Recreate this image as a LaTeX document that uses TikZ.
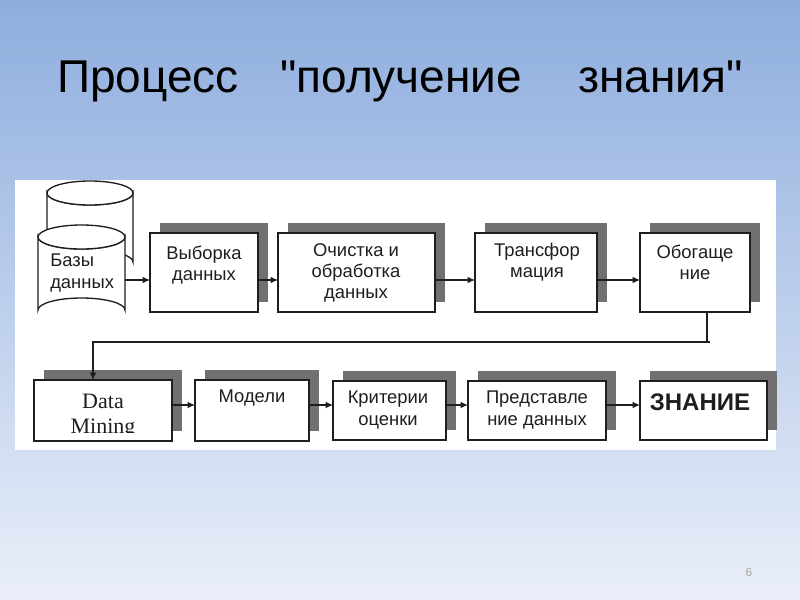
\documentclass[tikz,border=0pt]{standalone}
\usepackage{fontspec}
\setmainfont{Liberation Sans}
\newfontfamily\titlefont{Liberation Sans}
\newfontfamily\serifdm{Liberation Serif}
\usetikzlibrary{arrows.meta,shadows,calc}
\definecolor{bgtop}{RGB}{142,173,222}
\definecolor{bgmid}{RGB}{178,200,236}
\definecolor{bgbot}{RGB}{234,239,249}
\definecolor{shadowgray}{RGB}{112,112,112}
\definecolor{ink}{RGB}{30,30,30}
\tikzset{
  procbox/.style 2 args={rectangle, draw=ink, line width=1.1pt, fill=white,
    minimum width=#1*0.75pt, minimum height=#2*0.75pt, inner sep=0pt, outer sep=0pt,
    general shadow={shadow xshift=7.5pt, shadow yshift=7.5pt, fill=shadowgray, draw=none}},
  boxtext/.style={align=center, text=ink, inner sep=0pt,
    font=\fontsize{13.8}{15.8}\selectfont},
  arr/.style={draw=ink, line width=0.9pt, -{Latex[length=5.5pt,width=5pt]}},
  plainline/.style={draw=ink, line width=0.9pt},
  cyl/.style={draw=ink, line width=1pt, fill=white},
}
\begin{document}
\begin{tikzpicture}[x=0.75pt, y=-0.75pt]
\useasboundingbox (0,0) rectangle (800,600);
% background
\shade[top color=bgtop, middle color=bgmid, bottom color=bgbot] (0,0) rectangle (800,600);
% title
\node[anchor=base west, inner sep=0pt, font=\titlefont\fontsize{34.5}{40}\selectfont] (title) at (57,92)
  {\makebox[167.25pt][l]{Процесс}\makebox[223.5pt][l]{"получение}знания"};
% white panel
\fill[white] (15,180) rectangle (776,450);
% back cylinder
\path[cyl] (47,193) -- (47,262) arc[start angle=180, end angle=360, x radius=43, y radius=12]
  -- (133,193) arc[start angle=0, end angle=180, x radius=43, y radius=12] -- cycle;
\draw[cyl] (90,193) ellipse[x radius=43, y radius=12];
% front cylinder
\path[cyl] (38,237) -- (38,310) arc[start angle=180, end angle=360, x radius=43.5, y radius=12]
  -- (125,237) arc[start angle=0, end angle=180, x radius=43.5, y radius=12] -- cycle;
\draw[cyl] (81.5,237) ellipse[x radius=43.5, y radius=12];
\node[anchor=west, align=left, text=ink, inner sep=0pt, font=\fontsize{13.8}{15.8}\selectfont] (dbt) at (50,273) {Базы\\данных};
\coordinate (dbr) at (125,280);
% row 1 boxes
\node[procbox={108}{79}] (vyb) at (204,272.5) {};
\node[procbox={157}{79}] (och) at (356.5,272.5) {};
\node[procbox={122}{79}] (tra) at (536,272.5) {};
\node[procbox={110}{79}] (obo) at (695,272.5) {};
\node[boxtext] (vybt) at (204,265) {Выборка\\данных};
\node[boxtext] (ocht) at (356,273) {Очистка и\\обработка\\данных};
\node[boxtext] (trat) at (537,262) {Трансфор\\мация};
\node[boxtext] (obot) at (695,262) {Обогаще\\ние};
% row 2 boxes
\node[procbox={138}{61}] (dm) at (103,410.5) {};
\node[procbox={114}{61}] (mod) at (252,410.5) {};
\node[procbox={113}{59}] (kri) at (389.5,410.5) {};
\node[procbox={138}{59}] (pre) at (537,410.5) {};
\node[procbox={127}{59}] (zna) at (703.5,410.5) {};
\begin{scope}
\clip (34,380) rectangle (172,432);
\node[align=center, text=ink, inner sep=0pt, font=\serifdm\fontsize{16.5}{18.75}\selectfont] (dmt) at (103,416) {Data\\Mining};
\end{scope}
\node[boxtext] (modt) at (252,398) {Модели};
\node[boxtext] (krit) at (388,410) {Критерии\\оценки};
\node[boxtext] (pret) at (537,410) {Представле\\ние данных};
\node[boxtext, font=\bfseries\fontsize{18}{20}\selectfont] (znat) at (700,402) {ЗНАНИЕ};
% connectors row 1
\coordinate (r1) at (0,280);
\draw[arr] (dbr) -- (dbr -| vyb.west);
\draw[arr] (vyb.east |- r1) -- (och.west |- r1);
\draw[arr] (och.east |- r1) -- (tra.west |- r1);
\draw[arr] (tra.east |- r1) -- (obo.west |- r1);
% return line
\coordinate (vl) at (707,342);
\coordinate (hl) at (710,342);
\coordinate (bend) at (93,342);
\draw[plainline] (obo.south -| vl) -- (vl);
\draw[arr] (hl) -- (bend) -- (bend |- dm.north);
% connectors row 2
\coordinate (r2) at (0,405);
\draw[arr] (dm.east |- r2) -- (mod.west |- r2);
\draw[arr] (mod.east |- r2) -- (kri.west |- r2);
\draw[arr] (kri.east |- r2) -- (pre.west |- r2);
\draw[arr] (pre.east |- r2) -- (zna.west |- r2);
% page number
\node[text=gray!70, font=\fontsize{9}{10}\selectfont] (pnum) at (749,572) {6};
\end{tikzpicture}
\end{document}
